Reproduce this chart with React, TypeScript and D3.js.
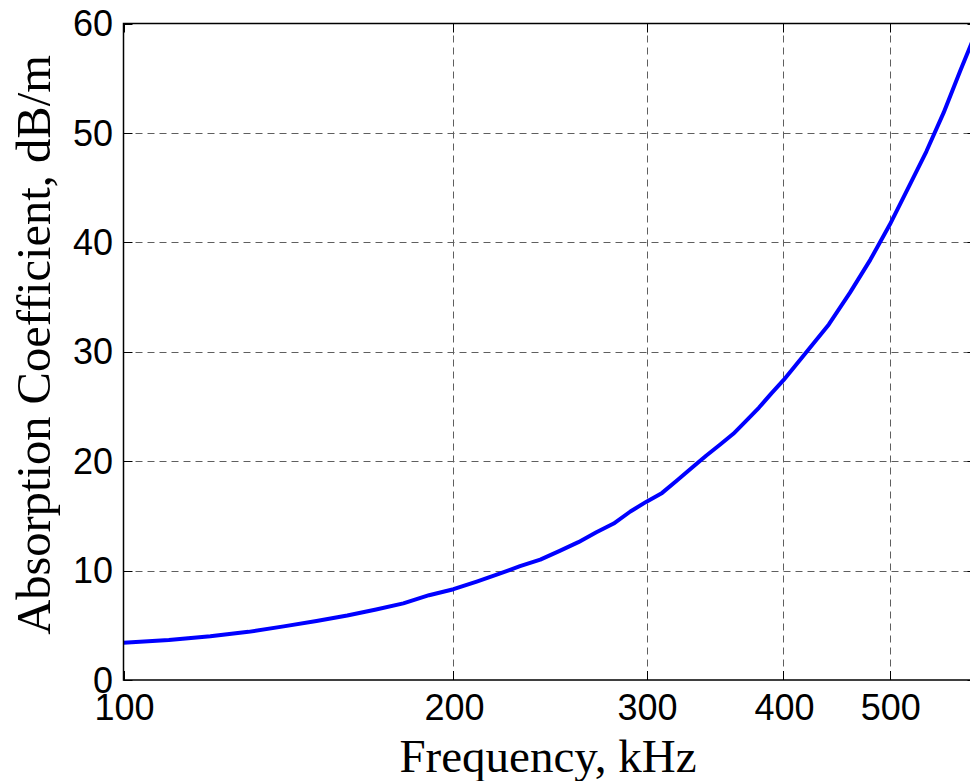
import React, { useEffect, useRef } from "react";
import * as d3 from "d3";

// frequency (kHz) and absorption coefficient (dB/m)
const frequency = [
  100, 110, 120, 130, 140, 150, 160, 170, 180, 190, 200, 210, 220, 230, 240,
  250, 260, 270, 280, 290, 300, 310, 320, 330, 340, 350, 360, 370, 380, 390,
  400, 420, 440, 460, 480, 500, 520, 540, 560, 580, 600,
];
const absorption = [
  3.4, 3.65, 4.0, 4.4, 4.9, 5.4, 5.9, 6.45, 7.0, 7.75, 8.3, 9.0, 9.7, 10.4, 11.0,
  11.8, 12.6, 13.5, 14.3, 15.4, 16.3, 17.1, 18.25, 19.4, 20.5, 21.5, 22.5, 23.7, 24.9, 26.2,
  27.4, 30.0, 32.5, 35.4, 38.4, 41.6, 45.0, 48.3, 51.85, 55.7, 59.3,
];

const xTicks = [100, 200, 300, 400, 500, 600];
const xTickLabels = [100, 200, 300, 400, 500];
const yTicks = [0, 10, 20, 30, 40, 50, 60];

const xLabel = "Frequency, kHz";
const yLabel = "Absorption Coefficient, dB/m";

const W = 970;
const H = 781;

const App = () => {
  const svgRef = useRef(null);

  useEffect(() => {
    const svg = d3.select(svgRef.current);
    svg.selectAll("*").remove();

    const left = 123.5, right = 976.5, top = 23.5, bottom = 680;

    const x = d3.scaleLog().domain([100, 600]).range([left, right]);
    const y = d3.scaleLinear().domain([0, 60]).range([bottom, top]);

    svg.append("rect").attr("width", W).attr("height", H).attr("fill", "#fff");

    // grid
    const grid = svg.append("g")
      .attr("stroke", "#444")
      .attr("stroke-width", 1)
      .attr("stroke-dasharray", "7,5")
      .attr("opacity", 0.85);

    grid.selectAll(".vg")
      .data(xTicks.filter((d) => d > 100 && d < 600))
      .join("line")
      .attr("x1", (d) => Math.round(x(d)) + 0.5)
      .attr("x2", (d) => Math.round(x(d)) + 0.5)
      .attr("y1", top)
      .attr("y2", bottom);

    grid.selectAll(".hg")
      .data(yTicks.filter((d) => d > 0 && d < 60))
      .join("line")
      .attr("x1", left)
      .attr("x2", right)
      .attr("y1", (d) => Math.round(y(d)) + 0.5)
      .attr("y2", (d) => Math.round(y(d)) + 0.5);

    // tick marks, inward, on all four sides
    const ticks = svg.append("g").attr("stroke", "#000").attr("stroke-width", 1);
    const tl = 9;
    xTicks.forEach((d) => {
      const px = Math.round(x(d)) + 0.5;
      ticks.append("line").attr("x1", px).attr("x2", px).attr("y1", bottom).attr("y2", bottom - tl);
      ticks.append("line").attr("x1", px).attr("x2", px).attr("y1", top).attr("y2", top + tl);
    });
    yTicks.forEach((d) => {
      const py = Math.round(y(d)) + 0.5;
      ticks.append("line").attr("x1", left).attr("x2", left + tl).attr("y1", py).attr("y2", py);
      ticks.append("line").attr("x1", right).attr("x2", right - tl).attr("y1", py).attr("y2", py);
    });

    // curve
    const line = d3.line()
      .x((d, i) => x(frequency[i]))
      .y((d) => y(d));

    svg.append("path")
      .datum(absorption)
      .attr("fill", "none")
      .attr("stroke", "#0000ff")
      .attr("stroke-width", 4)
      .attr("stroke-linejoin", "round")
      .attr("d", line);

    // axes box
    svg.append("rect")
      .attr("x", left)
      .attr("y", top)
      .attr("width", right - left)
      .attr("height", bottom - top)
      .attr("fill", "none")
      .attr("stroke", "#000")
      .attr("stroke-width", 1.5);

    // tick labels
    svg.append("g")
      .selectAll("text")
      .data(xTickLabels)
      .join("text")
      .attr("x", (d) => x(d) + 1)
      .attr("y", 720)
      .attr("text-anchor", "middle")
      .style("font-family", "'Liberation Sans', Arial, sans-serif")
      .style("font-size", "36px")
      .text((d) => d);

    svg.append("g")
      .selectAll("text")
      .data(yTicks)
      .join("text")
      .attr("x", 113)
      .attr("y", (d) => y(d))
      .attr("dy", "0.35em")
      .attr("text-anchor", "end")
      .style("font-family", "'Liberation Sans', Arial, sans-serif")
      .style("font-size", "36px")
      .text((d) => d);

    // axis labels
    svg.append("text")
      .attr("x", 548)
      .attr("y", 772)
      .attr("text-anchor", "middle")
      .style("font-family", "'Liberation Serif', 'Times New Roman', serif")
      .style("font-size", "47px")
      .text(xLabel);

    svg.append("text")
      .attr("transform", `translate(50,${345}) rotate(-90)`)
      .attr("text-anchor", "middle")
      .style("font-family", "'Liberation Serif', 'Times New Roman', serif")
      .style("font-size", "48.5px")
      .text(yLabel);

    return () => {
      svg.selectAll("*").remove();
    };
  }, []);

  return (
    <svg
      ref={svgRef}
      width={W}
      height={H}
      style={{ position: "absolute", left: 0, top: 0, display: "block" }}
    ></svg>
  );
};

export default App;
